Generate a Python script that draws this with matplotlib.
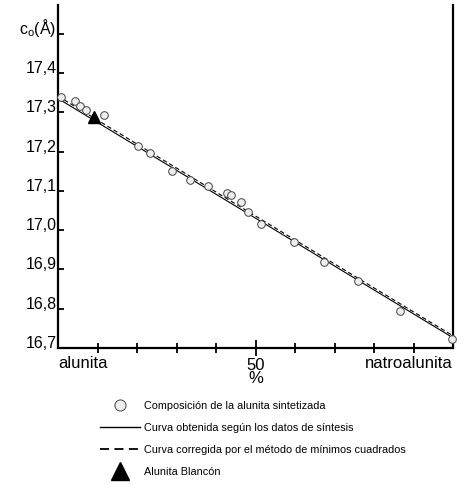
"""
Parámetro c0 de la alunita en función de la composición (alunita - natroalunita).
"""

import matplotlib
matplotlib.use('Agg')

import matplotlib.pyplot as plt
from matplotlib.lines import Line2D

plt.rcParams["font.family"] = ["Liberation Sans", "DejaVu Sans"]
plt.rcParams["font.size"] = 12

# Datos
comp_x = [0.8, 4.3, 5.6, 7.2, 11.6, 20.3, 23.2, 28.9, 33.3, 37.9,
          42.7, 43.8, 46.3, 48.0, 51.3, 59.8, 67.3, 76.0, 86.5, 99.8]
comp_y = [17.340, 17.329, 17.317, 17.306, 17.292, 17.215, 17.197, 17.151, 17.128, 17.112,
          17.095, 17.089, 17.071, 17.047, 17.016, 16.969, 16.920, 16.871, 16.795, 16.724]

sint_x = [0, 100]
sint_y = [17.335, 16.726]
corr_x = [0, 100]
corr_y = [17.341, 16.731]

blancon_x = [9.2]
blancon_y = [17.289]

y_ticks = [16.7, 16.8, 16.9, 17.0, 17.1, 17.2, 17.3, 17.4, 17.5]
y_labels = ["16,7", "16,8", "16,9", "17,0", "17,1", "17,2", "17,3", "17,4",
            r"$\mathregular{c_o}$(Å)"]

fig = plt.figure(figsize=(4.69, 4.84), dpi=100)
ax = fig.add_axes([58 / 469, 1 - 348 / 484, 395 / 469, 343 / 484])

ax.plot(corr_x, corr_y, color="black", linewidth=0.8, dashes=(4, 2.5))
ax.plot(sint_x, sint_y, color="black", linewidth=0.8)
ax.plot(comp_x, comp_y, "o", ms=5.5, mfc="#eeeeee", mec="#444444", mew=0.7,
        clip_on=False, zorder=3)
ax.plot(blancon_x, blancon_y, "^", ms=9, color="black", clip_on=False, zorder=4)

ax.set_xlim(0, 100)
ax.set_ylim(16.7, 17.573)

ax.spines["top"].set_visible(False)
for side in ["left", "bottom", "right"]:
    ax.spines[side].set_linewidth(1.6)

ax.set_yticks(y_ticks)
ax.set_yticklabels(y_labels, fontsize=11.5)
ax.tick_params(axis="y", direction="in", length=4, width=1.3, pad=1)
for label in ax.get_yticklabels():
    label.set_va("baseline")

ax.set_xticks([50])
ax.set_xticklabels(["50"])
ax.set_xticks([10, 20, 30, 40, 60, 70, 80, 90], minor=True)
ax.tick_params(axis="x", which="major", direction="inout", length=12, width=1.3, pad=1)
ax.tick_params(axis="x", which="minor", direction="inout", length=7, width=1.3)
ax.set_xlabel("%", labelpad=-1)

ax.text(0, -0.022, "alunita", transform=ax.transAxes, ha="left", va="top")
ax.text(1, -0.022, "natroalunita", transform=ax.transAxes, ha="right", va="top")

handles = [
    Line2D([], [], marker="o", ls="none", ms=8, mfc="#eeeeee", mec="#444444", mew=0.7),
    Line2D([], [], color="black", lw=1),
    Line2D([], [], color="black", lw=1.3, dashes=(5, 3)),
    Line2D([], [], marker="^", ls="none", ms=13, color="black"),
]
labels = [
    "Composición de la alunita sintetizada",
    "Curva obtenida según los datos de síntesis",
    "Curva corregida por el método de mínimos cuadrados",
    "Alunita Blancón",
]
fig.legend(handles, labels, loc="upper left", bbox_to_anchor=(100 / 469, 1 - 401 / 484),
           frameon=False, fontsize=7.8, borderpad=0, borderaxespad=0,
           handlelength=3.7, handletextpad=0.35, labelspacing=1.1)

plt.savefig("out.png", dpi=100)
plt.close()
